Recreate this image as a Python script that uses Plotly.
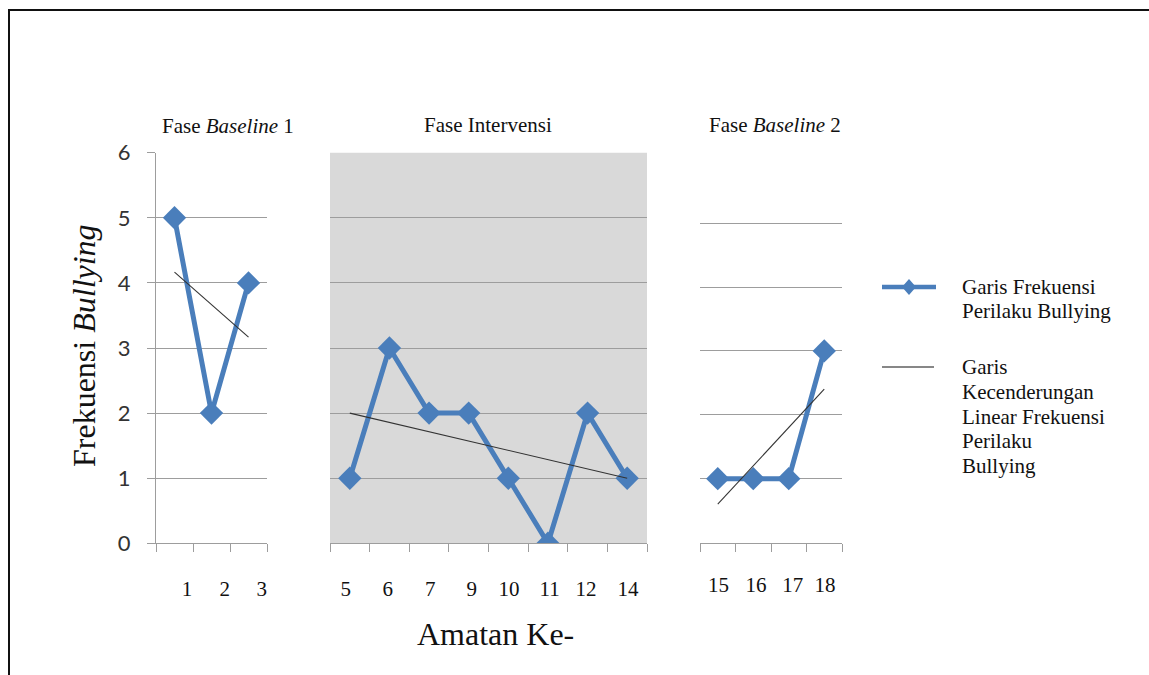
import numpy as np
import plotly.graph_objects as go

# ---------------- data ----------------
phase_titles = ["Fase <i>Baseline</i> 1", "Fase Intervensi", "Fase <i>Baseline</i> 2"]
b1_labels = ["1", "2", "3"]
b1_values = [5, 2, 4]
int_labels = ["5", "6", "7", "9", "10", "11", "12", "14"]
int_values = [1, 3, 2, 2, 1, 0, 2, 1]
b2_labels = ["15", "16", "17", "18"]
b2_values = [1, 1, 1, 3]
y_ticks = [0, 1, 2, 3, 4, 5, 6]
y_title = "Frekuensi <i>Bullying</i>"
x_title = "Amatan Ke-"
legend_series = ["Garis Frekuensi", "Perilaku Bullying"]
legend_trend = ["Garis", "Kecenderungan", "Linear Frekuensi", "Perilaku", "Bullying"]

# ---------------- style / layout ----------------
W, H = 1149, 675
OFF = 0  # page body margin removed below
BLUE = "#4A7EBB"
GRID = "#9d9d9d"
SERIF = "Liberation Serif"
SANS = "Lato"


def px(p):
    return (p - OFF) / W


def py(p):
    return 1 - (p - OFF) / H


panels = [
    dict(vals=b1_values, labels=b1_labels, x0=156, x1=267, yb=543.3, yt=152.7,
         lab_off=[0.34, 0.36, 0.36], lablen=26, yline=True, title_x=228, title_y=126),
    dict(vals=int_values, labels=int_labels, x0=330, x1=647, yb=543.3, yt=152.7,
         lab_off=[-0.1, -0.04, 0.03, 0.08, 0.02, 0.04, -0.04, 0.02], lablen=26, yline=False,
         title_x=488, title_y=125),
    dict(vals=b2_values, labels=b2_labels, x0=700, x1=842, yb=542.5, yt=159.3,
         lab_off=[0.02, 0.08, 0.11, 0.02], lablen=23, yline=False, title_x=775, title_y=125),
]

fig = go.Figure()
layout = dict(
    width=W, height=H, margin=dict(l=0, r=0, t=0, b=0, pad=0, autoexpand=False),
    paper_bgcolor="white", plot_bgcolor="rgba(0,0,0,0)", showlegend=False,
    shapes=[], annotations=[],
)

for i, p in enumerate(panels):
    n = len(p["vals"])
    sfx = "" if i == 0 else str(i + 1)
    xs = np.arange(n) + 0.5
    # data series
    fig.add_trace(go.Scatter(
        x=xs, y=p["vals"], mode="lines+markers", xaxis="x" + sfx, yaxis="y" + sfx,
        line=dict(color=BLUE, width=5),
        marker=dict(symbol="diamond", size=18, color=BLUE),
        hoverinfo="skip",
    ))
    # linear trend from the data
    idx = np.arange(1, n + 1)
    slope, icpt = np.polyfit(idx, p["vals"], 1)
    fig.add_trace(go.Scatter(
        x=[xs[0], xs[-1]], y=[slope * idx[0] + icpt, slope * idx[-1] + icpt],
        mode="lines", xaxis="x" + sfx, yaxis="y" + sfx,
        line=dict(color="#333333", width=1.1), hoverinfo="skip",
    ))
    layout["xaxis" + sfx] = dict(
        domain=[px(p["x0"]), px(p["x1"])], range=[0, n], anchor="y" + sfx,
        showline=True, linecolor=GRID, linewidth=1.2, showgrid=False, zeroline=False,
        tickmode="array", tickvals=list(xs + np.array(p["lab_off"])), ticktext=p["labels"],
        ticks="outside", ticklen=p["lablen"], tickcolor="rgba(0,0,0,0)",
        tickfont=dict(family=SERIF, size=21, color="#111111"),
        minor=dict(tickmode="array", tickvals=list(range(n + 1)), ticks="outside",
                   ticklen=8, tickcolor=GRID, tickwidth=1.2, showgrid=False),
        automargin=False, fixedrange=True,
    )
    layout["yaxis" + sfx] = dict(
        domain=[py(p["yb"]), py(p["yt"])], range=[0, 6], anchor="x" + sfx,
        showgrid=True, gridcolor=GRID, gridwidth=1.2, zeroline=False,
        tickmode="array", tickvals=y_ticks,
        showline=p["yline"], linecolor=GRID, linewidth=1.2,
        showticklabels=p["yline"], ticks="outside" if p["yline"] else "",
        ticklen=8, tickcolor=GRID, tickwidth=1.2,
        tickfont=dict(family=SANS, size=22, color="#333333"),
        ticklabelstandoff=12, automargin=False, fixedrange=True,
    )
    layout["annotations"].append(dict(
        text=phase_titles[i], x=px(p["title_x"]), y=py(p["title_y"]), xref="paper", yref="paper",
        xanchor="center", yanchor="middle", showarrow=False,
        font=dict(family=SERIF, size=21, color="#111111"),
    ))

# grey background of the intervention phase
layout["shapes"].append(dict(
    type="rect", xref="x2 domain", yref="y2 domain", x0=0, x1=1, y0=0, y1=1,
    fillcolor="#d9d9d9", line=dict(width=0), layer="below",
))
# outer frame
layout["shapes"].append(dict(
    type="rect", xref="paper", yref="paper", x0=px(9), x1=px(1170), y0=py(700), y1=py(10),
    line=dict(color="#111111", width=2), fillcolor="rgba(0,0,0,0)", layer="above",
))

# axis titles
layout["annotations"].append(dict(
    text=y_title, x=px(84), y=py(346), xref="paper", yref="paper", textangle=-90,
    xanchor="center", yanchor="middle", showarrow=False,
    font=dict(family=SERIF, size=32, color="#111111"),
))
layout["annotations"].append(dict(
    text=x_title, x=px(495), y=py(634), xref="paper", yref="paper",
    xanchor="center", yanchor="middle", showarrow=False,
    font=dict(family=SERIF, size=32, color="#111111"),
))

# legend (drawn manually)
layout["shapes"].append(dict(
    type="line", xref="paper", yref="paper", x0=px(882), x1=px(936), y0=py(287), y1=py(287),
    line=dict(color=BLUE, width=4.5),
))
cx, cy, hw, hh = 909, 287, 7, 8
layout["shapes"].append(dict(
    type="path", xref="paper", yref="paper",
    path=f"M {px(cx - hw)},{py(cy)} L {px(cx)},{py(cy - hh)} L {px(cx + hw)},{py(cy)} L {px(cx)},{py(cy + hh)} Z",
    fillcolor=BLUE, line=dict(width=0),
))
layout["shapes"].append(dict(
    type="line", xref="paper", yref="paper", x0=px(882), x1=px(934), y0=py(367), y1=py(367),
    line=dict(color="#111111", width=1.2),
))
for txt, ypos in zip(legend_series + legend_trend, [287, 311, 367, 392, 417, 441, 466]):
    layout["annotations"].append(dict(
        text=txt, x=px(960), y=py(ypos), xref="paper", yref="paper",
        xanchor="left", yanchor="middle", align="left", showarrow=False,
        font=dict(family=SERIF, size=21, color="#111111"),
    ))

fig.update_layout(**layout)
fig.write_html(
    "out.html",
    config={"displayModeBar": False},
    post_script="document.body.style.margin='0px';document.body.style.overflow='hidden';",
)
